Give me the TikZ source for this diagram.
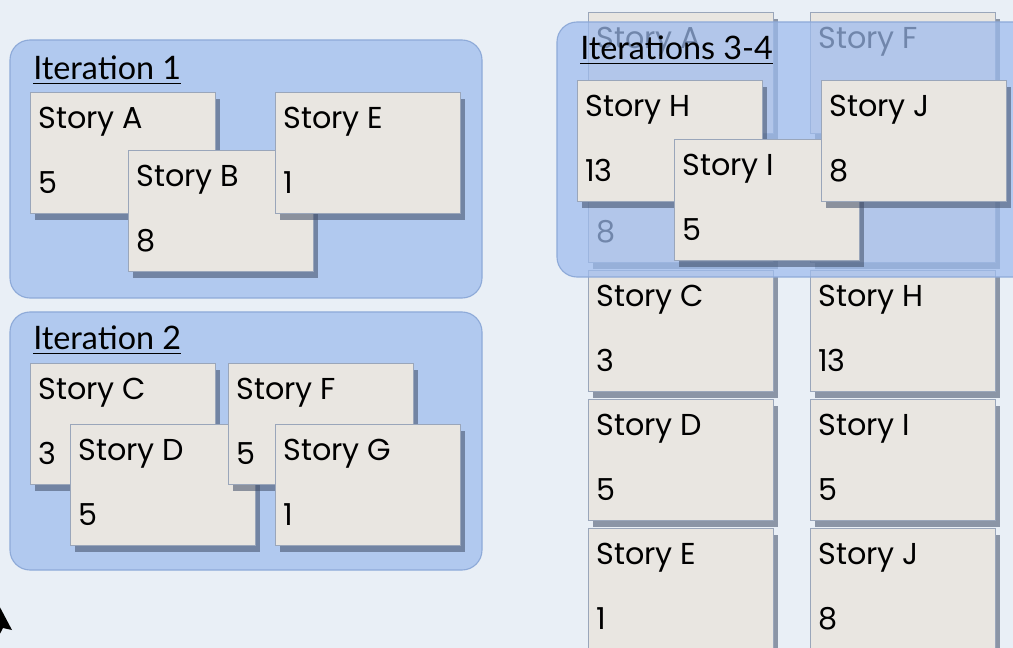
\documentclass[tikz,border=0pt]{standalone}
\usepackage{fontspec}
\setmainfont{Lato}
\newfontfamily\cardfont{Poppins}
\usepackage{xcolor}
\usetikzlibrary{positioning,shadows}

\definecolor{pagebg}{HTML}{E9EFF6}
\definecolor{iterfill}{HTML}{B1C9EF}
\definecolor{iterline}{HTML}{8EAAD8}
\definecolor{overfill}{HTML}{9DBBEE}
\definecolor{cardfill}{HTML}{E9E6E1}
\definecolor{cardline}{HTML}{9AA6BA}
\definecolor{shadowc}{HTML}{3F4C66}

\begin{document}
\begin{tikzpicture}[x=0.025cm,y=-0.025cm,
    iterbox/.style={fill=iterfill, draw=iterline, line width=0.8pt, rounded corners=0.5cm},
    overbox/.style={fill=overfill, fill opacity=0.72, draw=iterline, line width=0.8pt, rounded corners=0.5cm},
    card/.style={rectangle, anchor=north west, fill=cardfill, draw=cardline, line width=0.6pt,
      minimum width=4.625cm, minimum height=3.025cm, inner sep=0pt,
      drop shadow={shadow xshift=0.12cm, shadow yshift=-0.16cm, fill=shadowc, opacity=0.55}},
    cardtext/.style={anchor=base west, inner sep=0pt, font=\cardfont\fontsize{21.5}{24}\selectfont},
    itertitle/.style={anchor=base west, inner sep=0pt, font=\fontsize{23}{27}\selectfont},
    titleline/.style={line width=1.1pt}]
    \useasboundingbox (0,0) rectangle (1013,648);
    \clip (0,0) rectangle (1013,648);
      % Background
      \fill[pagebg] (0,0) rectangle (1013,648);

      % Iteration 1
      \draw[iterbox] (10,40) rectangle (482,298);
      \node[itertitle] (it1) at (33,80) {Iteration 1};
      \draw[titleline] ([yshift=-0.09cm]it1.base west) -- ([yshift=-0.09cm]it1.base east);
      \foreach \n/\x/\y/\t/\p in {i1a/30/92/A/5, i1b/128/150/B/8, i1e/275/92/E/1}{
        \node[card] (\n) at (\x,\y) {};
        \node[cardtext] (\n-t) at ([xshift=0.2cm, yshift=-0.9cm]\n.north west) {Story \t};
        \node[cardtext] (\n-p) at ([xshift=0.2cm, yshift=-2.53cm]\n.north west) {\p};
      }

      % Iteration 2
      \draw[iterbox] (10,312) rectangle (482,570);
      \node[itertitle] (it2) at (33,350) {Iteration 2};
      \draw[titleline] ([yshift=-0.09cm]it2.base west) -- ([yshift=-0.09cm]it2.base east);
      \foreach \n/\x/\y/\t/\p in {i2c/30/363/C/3, i2d/70/424/D/5, i2f/228/363/F/5, i2g/275/424/G/1}{
        \node[card] (\n) at (\x,\y) {};
        \node[cardtext] (\n-t) at ([xshift=0.2cm, yshift=-0.9cm]\n.north west) {Story \t};
        \node[cardtext] (\n-p) at ([xshift=0.2cm, yshift=-2.53cm]\n.north west) {\p};
      }

      % Backlog columns, upper cards only partly seen
      \node[card] (ba) at (588,12) {};
      \node[cardtext] (ba-t) at ([xshift=0.2cm, yshift=-0.9cm]ba.north west) {Story A};
      \node[card] (bb) at (588,141) {};
      \node[cardtext] (bb-p) at ([xshift=0.2cm, yshift=-2.53cm]bb.north west) {8};
      \node[card] (bf) at (810,12) {};
      \node[cardtext] (bf-t) at ([xshift=0.2cm, yshift=-0.9cm]bf.north west) {Story F};
      \node[card] (bg) at (810,141) {};
      \foreach \n/\x/\y/\t/\p in {bc/588/270/C/3, bd/588/399/D/5, be/588/528/E/1,
                                  bh/810/270/H/13, bi/810/399/I/5, bj/810/528/J/8}{
        \node[card] (\n) at (\x,\y) {};
        \node[cardtext] (\n-t) at ([xshift=0.2cm, yshift=-0.9cm]\n.north west) {Story \t};
        \node[cardtext] (\n-p) at ([xshift=0.2cm, yshift=-2.53cm]\n.north west) {\p};
      }

      % Iterations 3-4
      \draw[overbox] (557,22) rectangle (1040,277);
      \node[itertitle] (it3) at (580,60) {Iterations 3-4};
      \draw[titleline] ([yshift=-0.09cm]it3.base west) -- ([yshift=-0.09cm]it3.base east);
      \foreach \n/\x/\y/\t/\p in {i3h/577/80/H/13, i3i/674/139/I/5, i3j/821/80/J/8}{
        \node[card] (\n) at (\x,\y) {};
        \node[cardtext] (\n-t) at ([xshift=0.2cm, yshift=-0.9cm]\n.north west) {Story \t};
        \node[cardtext] (\n-p) at ([xshift=0.2cm, yshift=-2.53cm]\n.north west) {\p};
      }

      % Pointer
      \fill[black] (-6,596) -- (12,630) -- (3,628) -- (-6,645) -- cycle;
  \end{tikzpicture}
\end{document}
